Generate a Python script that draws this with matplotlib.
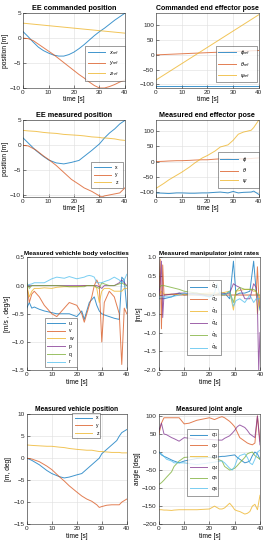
import matplotlib
matplotlib.use('Agg')
import matplotlib.pyplot as plt

plt.rcParams['font.family'] = ['Liberation Sans', 'DejaVu Sans']
plt.rcParams['mathtext.fontset'] = 'dejavusans'

colors = ['#0072BD', '#D95319', '#EDB120', '#7E2F8E', '#77AC30', '#4DBEEE']

# ---- EE commanded position
t_cmd = [0, 2, 4, 6, 8, 10, 12, 14, 16, 18, 20, 22, 24, 26, 28, 30, 32, 34, 36, 38, 40]
x_ref = [1.3, 0.3, -0.8, -1.8, -2.5, -3.0, -3.4, -3.6, -3.6, -3.3, -2.8, -2.1, -1.3, -0.4, 0.5, 1.3, 2.0, 2.8, 3.6, 4.3, 5.0]
y_ref = [0, -0.1, -0.5, -1.2, -1.9, -2.6, -3.3, -4.1, -4.9, -5.7, -6.5, -7.3, -8.0, -8.8, -9.5, -10.0, -10.0, -9.7, -9.3, -8.8, -8.4]
z_ref = [3.0, 2.9, 2.8, 2.7, 2.6, 2.5, 2.4, 2.3, 2.2, 2.1, 2.0, 1.9, 1.8, 1.7, 1.6, 1.5, 1.4, 1.3, 1.2, 1.1, 1.0]

# ---- commanded end effector pose
t_pose = [0, 40]
phi_ref = [-105, -105]
theta_ref = [0, 15]
psi_ref = [-85, 136]

# ---- EE measured position
t_meas = [0, 2, 5, 8, 10, 13, 16, 19, 22, 24, 27, 30, 31, 32, 34, 36, 38, 40]
x_m = [1.5, 0.5, -1.0, -2.2, -2.9, -3.5, -3.7, -3.4, -3.0, -2.2, -1.0, 0.3, 0.9, 1.5, 2.5, 3.3, 4.3, 5.0]
y_m = [0, -0.1, -0.9, -2.1, -2.8, -4.0, -5.4, -6.8, -7.8, -8.5, -9.2, -10.1, -10.3, -10.1, -9.9, -9.7, -9.5, -8.5]
z_m = [3.0, 2.9, 2.8, 2.6, 2.5, 2.4, 2.2, 2.1, 2.0, 1.9, 1.7, 1.6, 1.5, 1.5, 1.4, 1.3, 1.1, 1.0]

# ---- measured end effector pose
t_mp = [0, 3, 5, 8, 10, 13, 15, 18, 20, 23, 25, 28, 30, 32, 34, 37, 38, 40]
phi_m = [-103, -104, -105, -103, -103, -104, -104, -103, -103, -101, -100, -103, -98, -103, -101, -100, -97, -108]
theta_m = [0, 1, 2, 3, 3, 4, 5, 6, 6, 8, 9, 10, 8, 9, 9, 10, 11, 12]
psi_m = [-88, -72, -60, -45, -35, -18, -5, 12, 20, 35, 48, 55, 70, 90, 97, 103, 112, 137]

# ---- measured vehicle body velocities
t_v = [0, 1, 2, 3, 5, 7, 10, 12, 15, 17, 20, 22, 23, 24, 25, 26, 27, 28, 29, 30, 31, 33, 35, 37, 38, 39, 40]
u = [-0.4, -0.3, -0.4, -0.38, -0.42, -0.45, -0.48, -0.5, -0.5, -0.5, -0.55, -0.45, -0.6, -0.45, -0.3, -0.25, -0.2, -0.35, -0.45, -0.5, -0.52, -0.55, -0.58, -0.6, 0.15, 0.1, -0.4]
v = [0, -0.3, -0.15, -0.1, -0.2, -0.35, -0.5, -0.55, -0.4, -0.3, -0.35, -0.5, -0.65, -0.5, -0.35, -0.2, 0.0, 0.1, 0.0, -1.0, -0.3, -0.1, -0.2, -0.5, -1.4, -0.4, -0.5]
w = [0, -0.2, -0.1, -0.05, -0.05, -0.04, -0.05, -0.03, -0.02, -0.02, -0.02, -0.01, 0, 0, 0, 0, 0, -0.05, -0.3, -0.1, -0.05, -0.05, -0.1, -0.1, -0.1, -0.05, -0.05]
p = [0, 0, 0, 0, 0, 0, 0, 0, 0, 0, 0, 0, 0, 0, 0, 0, 0, 0, -0.02, -0.05, 0, 0, 0, 0.05, 0.1, 0.05, 0]
q = [0.05, -0.05, 0, 0, 0, 0, 0, 0, -0.01, -0.02, -0.02, -0.02, -0.02, 0, 0, 0, 0, -0.03, -0.05, 0.05, 0.03, 0, 0, 0.03, 0.05, 0.02, 0]
r = [0, 0.02, 0.03, 0.05, 0.05, 0.05, 0.12, 0.15, 0.13, 0.16, 0.12, 0.14, 0.15, 0.17, 0.18, 0.17, 0.15, 0.05, 0.05, 0.05, 0.07, 0.1, 0.15, 0.1, 0.05, 0.1, 0.2]

# ---- measured manipulator joint rates
t_r = [0, 0.5, 1, 1.5, 2, 5, 8, 10, 15, 20, 22, 23, 24, 26, 28, 29.5, 30.5, 32, 34, 36, 37.5, 38.5, 39, 39.5, 40]
dq1 = [-0.1, -0.1, -0.1, -0.1, -0.1, -0.05, 0.05, 0.0, 0.05, -0.05, 0.0, 0.02, 0.05, 0.05, -0.1, 0.9, 0.0, 0.05, 0.05, 0.1, 0.9, 0.1, 0.0, -0.2, -0.4]
dq2 = [0, 0.95, -0.9, 0.8, 0, 0.02, 0, 0, 0, 0, 0, 0, 0, 0, 0, 0, 0, 0, 0, 0, 0, 0, 0.75, 0, -0.3]
dq3 = [0, 0.05, 0.1, 0.05, 0.02, 0.02, 0.02, 0.02, 0.03, 0.05, 0.05, 0.05, 0.05, 0.07, 0.1, -0.4, 0.1, 0.12, 0.15, 0.15, 0.1, 0.1, -0.5, -0.2, 0]
dq4 = [0, 0.3, 0.9, -0.6, 0, 0.02, 0.05, 0.05, 0.02, 0, 0, 0, 0.02, 0.03, 0.05, 0.3, 0.25, 0.2, -0.1, -0.1, 0.3, 0.2, -0.3, -2.0, -1.0]
dq5 = [0.2, 0.22, 0.25, 0.25, 0.25, 0.2, 0.15, 0.1, 0.05, 0.0, 0.0, 0.0, 0.0, 0.0, 0.1, -0.2, 0.1, 0.2, 0.15, 0.15, 0.15, 0.1, 0.0, 0.0, 0.0]
dq6 = [-0.05, -0.05, -0.05, -0.05, -0.05, -0.05, 0.0, 0.05, 0.0, -0.05, 0.05, 0.3, 0.05, 0.0, 0.1, -0.3, -0.15, -0.1, -0.2, 0.0, -0.2, -0.1, -0.1, -0.1, -0.1]

# ---- measured vehicle position
t_vp = [0, 2, 5, 8, 10, 13, 15, 17, 20, 22, 24, 26, 28, 29, 30, 32, 34, 36, 37, 38, 40]
x_v = [0, -0.5, -1.5, -2.8, -3.5, -4.2, -4.5, -4.3, -3.8, -3.5, -2.5, -1.5, -0.5, 0.0, 1.0, 2.0, 3.0, 4.0, 5.0, 5.8, 6.5]
y_v = [0, -0.2, -0.8, -1.8, -2.6, -4.2, -5.2, -6.3, -7.7, -8.6, -9.3, -9.8, -10.6, -11.2, -11.0, -10.7, -10.6, -10.6, -10.6, -10.0, -9.3]
z_v = [3.0, 2.9, 2.8, 2.7, 2.7, 2.5, 2.4, 2.2, 2.0, 1.9, 1.8, 1.8, 1.6, 1.5, 1.5, 1.4, 1.3, 1.3, 1.3, 1.2, 1.2]

# ---- measured joint angle
t_a = [0, 1, 2, 3, 5, 6, 8, 10, 12, 15, 20, 22, 24, 25, 26, 28, 29, 30, 31, 32, 34, 35, 36, 37, 38, 39, 40]
q1 = [0, -8, -12, -15, -22, -25, -30, -25, -22, -18, -15, -14, -13, -12, -12, -10, -9, -8, -15, -20, -30, -28, -25, -10, 0, -5, -20]
q2 = [50, 80, 95, 95, 95, 95, 95, 78, 80, 88, 95, 90, 96, 98, 95, 85, 78, 70, 55, 40, 30, 25, 22, 20, 25, 100, 30]
q3 = [-160, -160, -161, -161, -162, -161, -160, -160, -160, -160, -158, -150, -158, -158, -155, -142, -150, -160, -163, -165, -172, -170, -165, -150, -145, -160, -120]
q4 = [60, 80, 50, 48, 40, 37, 30, 40, 38, 35, 35, 34, 33, 33, 38, 45, 52, 60, 70, 75, 68, 60, 50, 45, 40, 100, 20]
q5 = [-90, -85, -78, -70, -55, -40, -25, -15, -14, -15, -15, -18, -22, -25, -40, -50, -48, -45, -38, -30, -15, -5, -2, 0, -10, -15, -20]
q6 = [0, -5, -12, -20, -25, -30, -30, -30, -32, -35, -30, -28, -25, -25, -30, -45, -50, -40, -20, -10, -5, -15, -30, -35, -20, 0, 5]


def style(ax, xlabel, ylabel, title, tsize=5.2):
    ax.set_xlim(0, 40)
    ax.set_xticks([0, 10, 20, 30, 40])
    ax.grid(True, color='#dedede', linewidth=0.4)
    ax.set_axisbelow(True)
    ax.tick_params(direction='in', length=2, width=0.4, labelsize=4.6, pad=1.5, colors='#262626')
    for s in ax.spines.values():
        s.set_linewidth(0.4)
        s.set_color('#262626')
    ax.set_title(title, fontsize=tsize, fontweight='bold', pad=2)
    ax.set_xlabel(xlabel, fontsize=4.8, labelpad=1)
    if ylabel:
        ax.set_ylabel(ylabel, fontsize=4.8, labelpad=1)


def lines(ax, t, series, labels, lw=0.7):
    for i, s in enumerate(series):
        ax.plot(t, s, color=colors[i], linewidth=lw, alpha=0.75, label=labels[i])


def legend(ax, anchor):
    ax.legend(loc='lower left', bbox_to_anchor=anchor, mode='expand', fontsize=3.6,
              frameon=True, fancybox=False, edgecolor='#262626', borderpad=0.5,
              labelspacing=0.55, handlelength=3.5, borderaxespad=0,
              markerfirst=True).get_frame().set_linewidth(0.4)


fig = plt.figure(figsize=(2.68, 5.5), dpi=100)

ax1 = fig.add_axes([0.086, 0.84, 0.38, 0.136])
lines(ax1, t_cmd, [x_ref, y_ref, z_ref], ['$x_{ref}$', '$y_{ref}$', '$z_{ref}$'])
ax1.set_ylim(-10, 5)
ax1.set_yticks([-10, -5, 0, 5])
style(ax1, 'time [s]', 'position [m]', 'EE commanded position')
legend(ax1, (0.61, 0.10, 0.39, 0.44))

ax2 = fig.add_axes([0.582, 0.84, 0.384, 0.136])
lines(ax2, t_pose, [phi_ref, theta_ref, psi_ref], [r'$\phi_{ref}$', r'$\theta_{ref}$', r'$\psi_{ref}$'])
ax2.set_ylim(-112, 141)
ax2.set_yticks([-100, -50, 0, 50, 100])
style(ax2, 'time [s]', None, 'Commanded end effector pose', tsize=5.0)
legend(ax2, (0.58, 0.08, 0.40, 0.35))

ax3 = fig.add_axes([0.086, 0.642, 0.38, 0.14])
lines(ax3, t_meas, [x_m, y_m, z_m], ['x', 'y', 'z'])
ax3.set_ylim(-10.3, 5.1)
ax3.set_yticks([-10, -5, 0, 5])
style(ax3, 'time [s]', 'position [m]', 'EE measured position')
legend(ax3, (0.67, 0.12, 0.31, 0.38))

ax4 = fig.add_axes([0.582, 0.642, 0.384, 0.14])
lines(ax4, t_mp, [phi_m, theta_m, psi_m], [r'$\phi$', r'$\theta$', r'$\psi$'])
ax4.set_ylim(-116, 137)
ax4.set_yticks([-100, -50, 0, 50, 100])
style(ax4, 'time [s]', None, 'Measured end effector pose')
legend(ax4, (0.60, 0.12, 0.40, 0.30))

ax5 = fig.add_axes([0.10, 0.327, 0.373, 0.205])
lines(ax5, t_v, [u, v, w, p, q, r], ['u', 'v', 'w', 'p', 'q', 'r'])
ax5.set_ylim(-1.5, 0.5)
ax5.set_yticks([-1.5, -1, -0.5, 0, 0.5])
style(ax5, 'time [s]', '[m/s , deg/s]', 'Measured vehichle body velocities', tsize=4.6)
legend(ax5, (0.18, 0.03, 0.32, 0.44))

ax6 = fig.add_axes([0.593, 0.327, 0.377, 0.205])
lines(ax6, t_r, [dq1, dq2, dq3, dq4, dq5, dq6], [r'$\dot{q}_%d$' % i for i in range(1, 7)])
ax6.set_ylim(-2, 1)
ax6.set_yticks([-2, -1.5, -1, -0.5, 0, 0.5, 1])
style(ax6, 'time [s]', '[m/s]', 'Measured manipulator joint rates', tsize=4.6)
legend(ax6, (0.28, 0.135, 0.33, 0.40))

ax7 = fig.add_axes([0.10, 0.047, 0.373, 0.2])
lines(ax7, t_vp, [x_v, y_v, z_v], ['x', 'y', 'z'])
ax7.set_ylim(-15, 10)
ax7.set_yticks([-15, -10, -5, 0, 5, 10])
style(ax7, 'time [s]', '[m, deg]', 'Measured vehicle position', tsize=4.8)
legend(ax7, (0.456, 0.78, 0.28, 0.16))

ax8 = fig.add_axes([0.593, 0.047, 0.377, 0.2])
lines(ax8, t_a, [q1, q2, q3, q4, q5, q6], ['$q_%d$' % i for i in range(1, 7)])
ax8.set_ylim(-200, 105)
ax8.set_yticks([-200, -150, -100, -50, 0, 50, 100])
style(ax8, 'time [s]', 'angle [deg]', 'Measured joint angle', tsize=4.8)
legend(ax8, (0.28, 0.26, 0.30, 0.39))

fig.savefig('out.png', dpi=100, facecolor='white')
